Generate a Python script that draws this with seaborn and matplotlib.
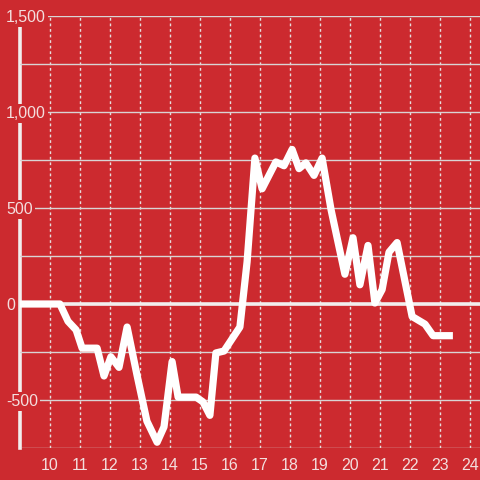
import numpy as np
import pandas as pd
import matplotlib
matplotlib.use("Agg")
import matplotlib.pyplot as plt
import seaborn as sns

# values (hour of day, value)
hours = [9.0, 10.33, 10.6, 10.87, 11.07, 11.57, 11.8, 12.03, 12.3, 12.57,
         12.9, 13.23, 13.57, 13.8, 14.07, 14.27, 14.87, 15.1, 15.33, 15.53,
         15.8, 16.33, 16.57, 16.83, 17.07, 17.53, 17.8, 18.07, 18.3, 18.53,
         18.8, 19.07, 19.37, 19.83, 20.1, 20.33, 20.6, 20.83, 21.07, 21.3,
         21.57, 22.07, 22.5, 22.77, 23.43]
values = [0, 0, -90, -135, -230, -230, -375, -275, -330, -120,
          -370, -610, -720, -640, -300, -485, -485, -510, -580, -255,
          -245, -120, 220, 760, 600, 740, 720, 805, 705, 735,
          670, 760, 490, 155, 345, 100, 305, 5, 75, 270,
          320, -65, -105, -165, -165]

x_ticks = list(range(10, 25))
y_ticks = [-750, -500, -250, 0, 250, 500, 750, 1000, 1250, 1500]

bg = "#cc2a2f"
text_c = "#f3dede"
grid_c = "#d9d4d4"

df = pd.DataFrame({"hour": hours, "value": values})

sns.set_style("white")
plt.rcParams["font.family"] = ["Liberation Sans", "DejaVu Sans"]

fig = plt.figure(figsize=(4.8, 4.8), dpi=100, facecolor=bg)
ax = fig.add_axes([20 / 480, 32 / 480, 460 / 480, 432 / 480])
ax.set_facecolor(bg)
ax.set_axisbelow(True)

ax.axhline(0, color="#f2eeee", lw=2.6, zorder=1)
sns.lineplot(data=df, x="hour", y="value", ax=ax, color="white", lw=5.2,
             solid_capstyle="butt", solid_joinstyle="round", zorder=3)

ax.set_xlim(9, 24 + 1 / 3)
ax.set_ylim(-750, 1500)
ax.set_xticks(x_ticks)
ax.set_xticklabels([str(t) for t in x_ticks])
ax.set_yticks(y_ticks)
ax.set_yticklabels([f"{t:,}" if t % 500 == 0 else "" for t in y_ticks])

ax.grid(axis="y", color=grid_c, lw=1, linestyle="-")
ax.grid(axis="x", color="#e6dede", lw=1, linestyle=(0, (2, 2)))
ax.tick_params(axis="both", length=0, labelsize=11.5, labelcolor=text_c)
ax.tick_params(axis="x", pad=7)
ax.tick_params(axis="y", pad=10)
for lab in ax.get_yticklabels():
    lab.set_horizontalalignment("left")
    lab.set_bbox(dict(facecolor=bg, edgecolor="none", pad=1.5))

for side in ["top", "right", "bottom"]:
    ax.spines[side].set_visible(False)
ax.spines["left"].set_color("#f2eeee")
ax.spines["left"].set_linewidth(2.6)
ax.spines["left"].set_zorder(0.4)

ax.set_xlabel("")
ax.set_ylabel("")

fig.savefig("out.png", dpi=100, facecolor=bg)
